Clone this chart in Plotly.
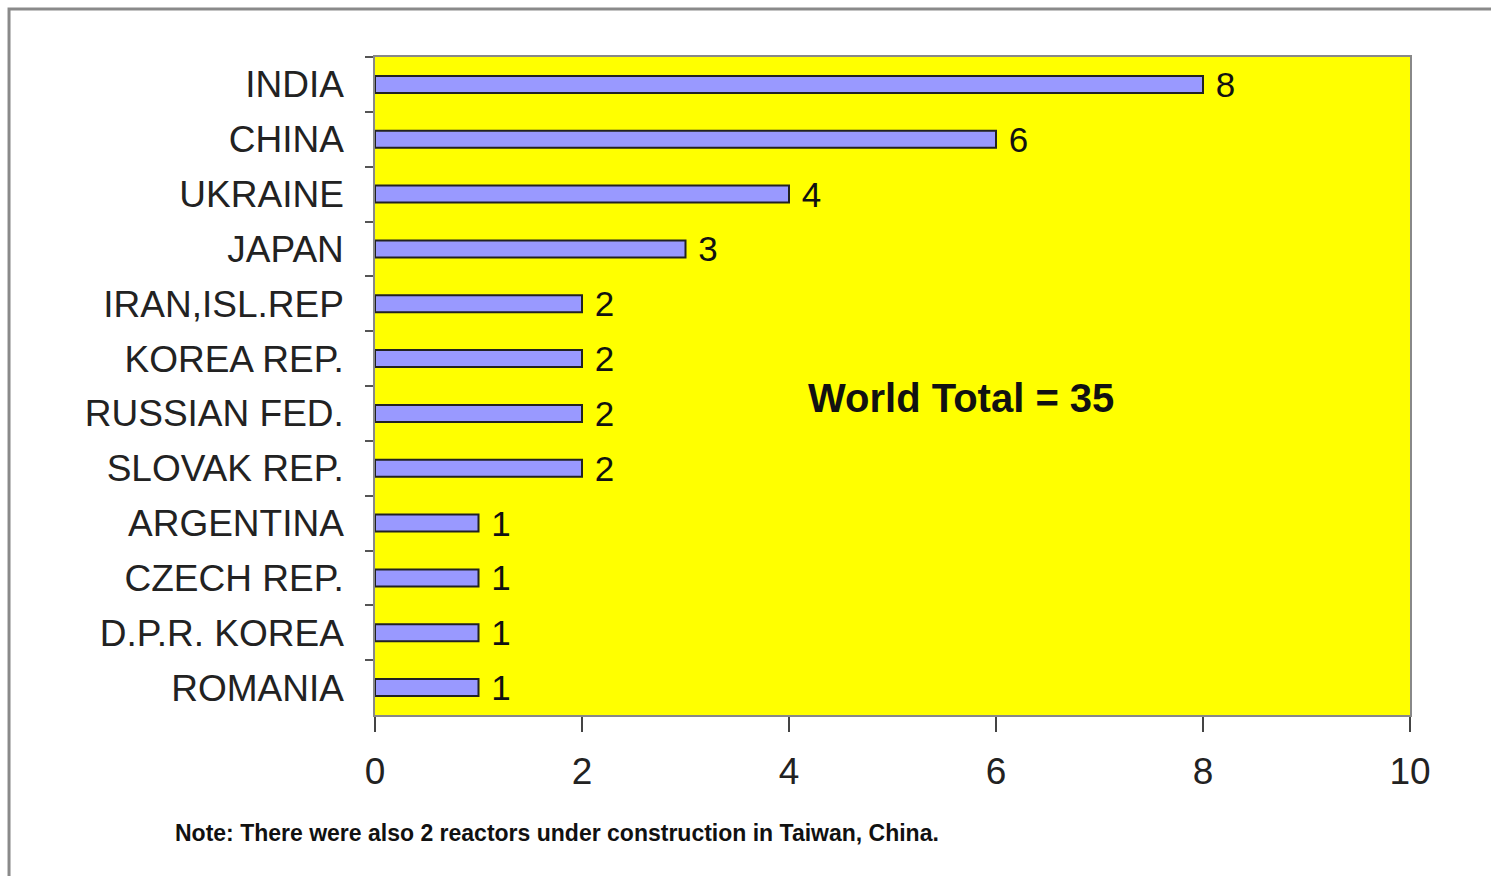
import plotly.graph_objects as go

# Nuclear reactors under construction, by country
countries = ["INDIA", "CHINA", "UKRAINE", "JAPAN", "IRAN,ISL.REP", "KOREA REP.",
             "RUSSIAN FED.", "SLOVAK REP.", "ARGENTINA", "CZECH REP.",
             "D.P.R. KOREA", "ROMANIA"]
reactors = [8, 6, 4, 3, 2, 2, 2, 2, 1, 1, 1, 1]
x_ticks = [0, 2, 4, 6, 8, 10]

FONT = "Liberation Sans, Arial, sans-serif"

fig = go.Figure()
fig.add_trace(go.Bar(
    x=reactors,
    y=countries,
    orientation="h",
    width=0.31,
    marker=dict(color="#9999FF", line=dict(color="#222", width=2)),
    text=[f" {v}" for v in reactors],
    textposition="outside",
    constraintext="none",
    cliponaxis=False,
    textfont=dict(family=FONT, size=35, color="#111"),
    hoverinfo="skip",
))

fig.update_layout(
    width=1491,
    height=876,
    margin=dict(l=375, r=81, t=57, b=161),
    paper_bgcolor="white",
    plot_bgcolor="#FFFF00",
    showlegend=False,
    font=dict(family=FONT, color="#222"),
    xaxis=dict(
        range=[0, 10],
        tickvals=x_ticks,
        ticktext=[str(t) for t in x_ticks],
        showgrid=False,
        zeroline=False,
        ticks="outside",
        ticklen=15,
        tickcolor="#444",
        tickwidth=1.5,
        ticklabelstandoff=8,
        tickfont=dict(family=FONT, size=37, color="#222"),
        showline=True,
        linecolor="#888",
        linewidth=1.5,
        mirror=True,
    ),
    yaxis=dict(
        autorange="reversed",
        showgrid=False,
        zeroline=False,
        ticks="outside",
        tickson="boundaries",
        ticklen=8,
        tickcolor="#555",
        tickwidth=1.5,
        ticklabelstandoff=22,
        tickfont=dict(family=FONT, size=37, color="#222"),
        showline=True,
        linecolor="#888",
        linewidth=1.5,
        mirror=True,
    ),
    annotations=[
        dict(
            text="<b>World Total = 35</b>",
            xref="paper", yref="paper",
            x=0.566, y=0.482,
            xanchor="center", yanchor="middle",
            showarrow=False,
            font=dict(family=FONT, size=40, color="#111"),
        ),
        dict(
            text="<b>Note: There were also 2 reactors under construction in Taiwan, China.</b>",
            xref="paper", yref="paper",
            x=0.176, y=-0.179,
            xanchor="center", yanchor="middle",
            showarrow=False,
            font=dict(family=FONT, size=23, color="#111"),
        ),
    ],
    shapes=[
        dict(
            type="rect", xref="paper", yref="paper",
            x0=-0.3536, y0=1.073, x1=1.2, y1=-0.5,
            line=dict(color="#8a8a8a", width=3),
            fillcolor="rgba(0,0,0,0)",
            layer="below",
        ),
    ],
)

fig.write_html("out.html")
